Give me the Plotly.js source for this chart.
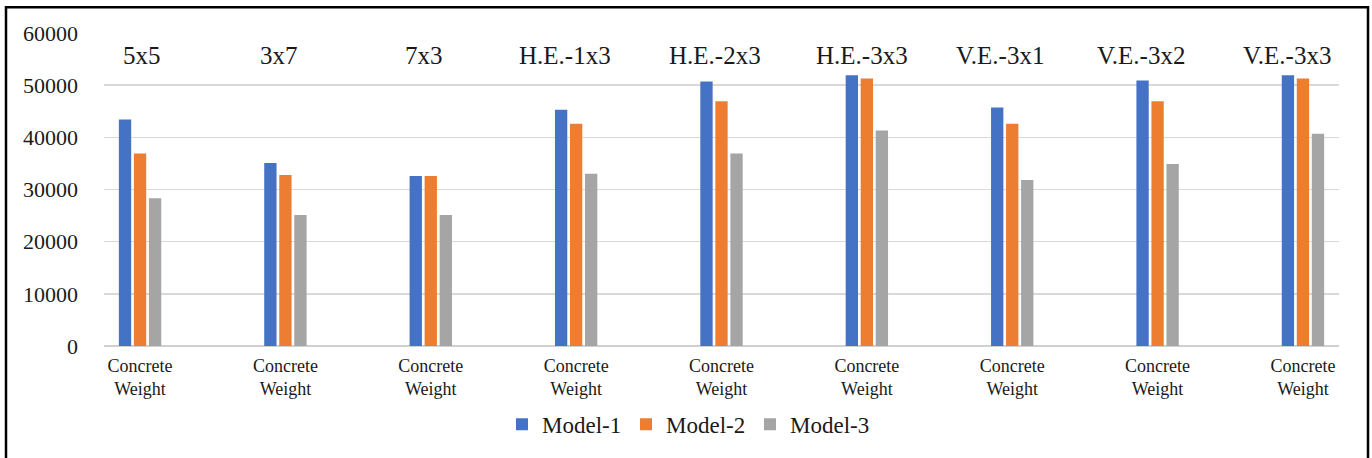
<!DOCTYPE html>
<html>
<head>
<meta charset="utf-8">
<script src="https://cdn.plot.ly/plotly-3.0.1.min.js"></script>
<style>html,body{margin:0;padding:0;background:#fff;}#chart{width:1372px;height:458px;}</style>
</head>
<body>
<div id="chart"></div>
<script>
const groupTitles = ["5x5","3x7","7x3","H.E.-1x3","H.E.-2x3","H.E.-3x3","V.E.-3x1","V.E.-3x2","V.E.-3x3"];
const categoryLabel = "Concrete<br>Weight";
const seriesNames = ["Model-1","Model-2","Model-3"];
const model1 = [43400, 35100, 32600, 45300, 50700, 51900, 45700, 50900, 51900];
const model2 = [36900, 32800, 32600, 42600, 46900, 51300, 42600, 46900, 51300];
const model3 = [28300, 25100, 25100, 33000, 36900, 41300, 31800, 34900, 40700];
const colors = ["#4472C4","#ED7D31","#A5A5A5"];
const FONT = "Liberation Serif";
// pixel nudges of the group titles (layout only)
const titleShift = [2, -6, -7, -11, -7, -5, -12, -17, -16];

const xs = groupTitles.map((_, i) => i);
const data = [model1, model2, model3].map((vals, k) => ({
  type: 'bar', x: xs, y: vals, name: seriesNames[k],
  marker: {color: colors[k]}, hoverinfo: 'y'
}));

const L = 104, R = 33, T = 33, B = 109, W = 1372, H = 458;
const pw = W - L - R, ph = H - T - B;
const px = v => (v - L) / pw;
const py = v => (H - B - v) / ph;

const annotations = groupTitles.map((t, i) => ({
  x: i, xref: 'x', y: py(56), yref: 'paper', text: t, showarrow: false,
  xanchor: 'center', yanchor: 'middle', xshift: titleShift[i],
  font: {family: FONT, size: 25, color: '#1a1a1a'}
}));

const layout = {
  width: W, height: H,
  font: {family: FONT, color: '#222'},
  margin: {l: L, r: R, t: T, b: B, pad: 0},
  paper_bgcolor: '#fff', plot_bgcolor: '#fff',
  barmode: 'group', bargap: 0.69, bargroupgap: 0.18,
  showlegend: true,
  legend: {orientation: 'h', x: px(502), xanchor: 'left', y: py(428), yanchor: 'middle',
    font: {family: FONT, size: 23, color: '#1a1a1a'},
    entrywidth: 79, entrywidthmode: 'pixels', itemwidth: 30},
  xaxis: {
    range: [-0.248, 8.248], tickvals: xs, ticktext: xs.map(() => categoryLabel),
    showgrid: false, zeroline: false, showline: false, ticks: '', ticklabelstandoff: 7,
    tickfont: {family: FONT, size: 18, color: '#1a1a1a'}
  },
  yaxis: {
    range: [0, 60000], tickvals: [0,10000,20000,30000,40000,50000,60000],
    ticktext: ['0','10000','20000','30000','40000','50000','60000'],
    showgrid: true, gridcolor: '#d9d9d9', gridwidth: 1.5, zeroline: true, zerolinecolor: '#d0d0d0', zerolinewidth: 1.5,
    showline: false, ticks: '', ticklabelstandoff: 25,
    tickfont: {family: FONT, size: 22, color: '#1a1a1a'}
  },
  annotations: annotations,
  shapes: [{type: 'rect', xref: 'paper', yref: 'paper',
    x0: px(6), x1: px(1368), y0: py(475), y1: py(7),
    line: {color: '#000', width: 2.5}, fillcolor: 'rgba(0,0,0,0)'}]
};

Plotly.newPlot('chart', data, layout, {displayModeBar: false, staticPlot: true});
</script>
</body>
</html>
